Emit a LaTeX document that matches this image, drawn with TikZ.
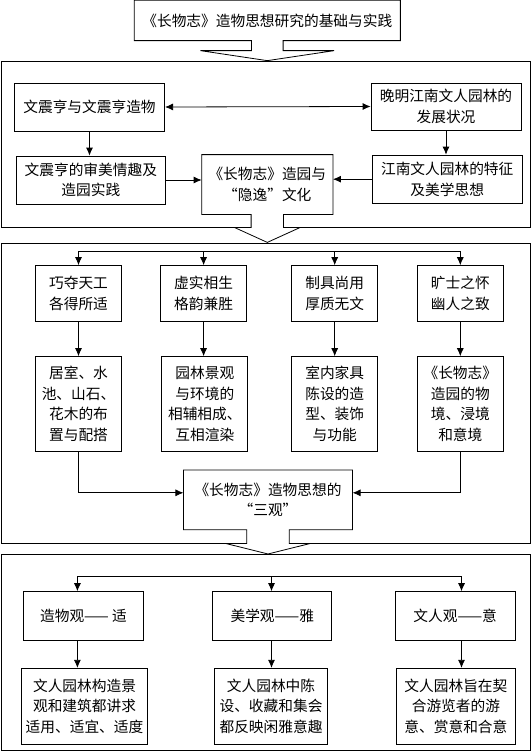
\documentclass[tikz,border=0pt]{standalone}
\usepackage{fontspec}
\newfontfamily\cjk{Noto Sans CJK SC}
\usetikzlibrary{positioning, arrows.meta, calc}

\tikzset{
  callout/.style={inner sep=0pt, align=center, font=\cjk\fontsize{14.7}{20.5}\selectfont},
  box/.style={callout, draw},
  link/.style={-{Latex[length=8pt,width=7pt]}},
  dlink/.style={{Latex[length=8pt,width=7pt]}-{Latex[length=8pt,width=7pt]}},
}

\begin{document}
\begin{tikzpicture}[x=1pt, y=-1pt, line width=0.8pt]
\useasboundingbox (0,0) rectangle (532,752);

% the three outer frames
\draw (1,61) rectangle (530,227);
\draw (1,243) rectangle (530,543);
\draw (1,554) rectangle (530,750);

% title with its down arrow
\node[callout, minimum width=265.3pt, minimum height=39.5pt] (title) at (267.3,20.5) {《长物志》造物思想研究的基础与实践};
\draw (title.north west) -- (title.north east) -- (title.south east)
  -- ($(title.south)+(15.8,0)$) -- ++(0,10) -- ++(51,0) -- ++(-66.8,10) -- ++(-66.8,-10)
  -- ++(51,0) -- ($(title.south)+(-15.8,0)$) -- (title.south west) -- cycle;

% first frame: background
\node[box, minimum width=150.3pt, minimum height=48pt] (zhenheng) at (89.5,107) {文震亨与文震亨造物};
\node[box, minimum width=150pt, minimum height=47pt] (jiangnan) at (446,106.5) {晚明江南文人园林的\\发展状况};
\node[box, minimum width=149.7pt, minimum height=48pt] (taste) at (90.8,180) {文震亨的审美情趣及\\造园实践};
\node[box, minimum width=149.7pt, minimum height=48.3pt] (feature) at (447.2,179.2) {江南文人园林的特征\\及美学思想};
\node[callout, minimum width=130.5pt, minimum height=59pt] (yinyi) at (267.3,184.5) {《长物志》造园与\\“隐逸”文化};
\fill[white] ($(yinyi.south)+(-16.2,0)$) rectangle ($(yinyi.south)+(16.2,13.5)$);
\draw (yinyi.north west) -- (yinyi.north east) -- (yinyi.south east)
  -- ($(yinyi.south)+(16.2,0)$) -- ++(0,13) -- ++(16.8,0) -- ++(-33,15) -- ++(-33,-15)
  -- ++(16.8,0) -- ($(yinyi.south)+(-16.2,0)$) -- (yinyi.south west) -- cycle;

\draw[dlink] (zhenheng.east) -- (jiangnan.west);
\draw[link] (zhenheng.south) -- (zhenheng.south |- taste.north);
\draw[link] (jiangnan.south) -- (jiangnan.south |- feature.north);
\draw[link] (taste.east) -- (taste.east -| yinyi.west);
\draw[link] (feature.west) -- (feature.west -| yinyi.east);

% second frame: the four principles
\node[box, minimum width=86pt, minimum height=56pt] (skill) at (78.5,293.6) {巧夺天工\\各得所适};
\node[box, minimum width=86pt, minimum height=56pt] (void) at (203.6,293.6) {虚实相生\\格韵兼胜};
\node[box, minimum width=86pt, minimum height=56pt] (tool) at (334.7,293.6) {制具尚用\\厚质无文};
\node[box, minimum width=86pt, minimum height=56pt] (mind) at (460.3,293.6) {旷士之怀\\幽人之致};

\node[box, minimum width=86pt, minimum height=94.6pt] (layout) at (78.5,403.9) {居室、水\\池、山石、\\花木的布\\置与配搭};
\node[box, minimum width=86pt, minimum height=94.6pt] (scene) at (204.8,403.9) {园林景观\\与环境的\\相辅相成、\\互相渲染};
\node[box, minimum width=86pt, minimum height=94.6pt] (furniture) at (334.7,403.9) {室内家具\\陈设的造\\型、装饰\\与功能};
\node[box, minimum width=86pt, minimum height=94.6pt] (realm) at (460.3,403.9) {《长物志》\\造园的物\\境、浸境\\和意境};

\node[callout, minimum width=168.3pt, minimum height=59pt] (views) at (268,499.8) {《长物志》造物思想的\\“三观”};
\fill[white] ($(views.south)+(-21.3,0)$) rectangle ($(views.south)+(21.3,14.2)$);
\draw (views.north west) -- (views.north east) -- (views.south east)
  -- ($(views.south)+(21.3,0)$) -- ++(0,13.7) -- ++(21.2,0) -- ++(-42.5,10.6) -- ++(-42.5,-10.6)
  -- ++(21.2,0) -- ($(views.south)+(-21.3,0)$) -- (views.south west) -- cycle;

\coordinate (bar2) at (78.5,251);
\draw (bar2) -- (bar2 -| mind.north);
\foreach \n in {skill, void, tool, mind}
  \draw[link] (\n.north |- bar2) -- (\n.north);
\draw[link] (skill) -- (layout);
\draw[link] (void.south) -- (void.south |- scene.north);
\draw[link] (tool) -- (furniture);
\draw[link] (mind) -- (realm);
\draw[link] (layout.south) |- ([yshift=7pt]views.west);
\draw[link] (realm.south) |- ([yshift=7pt]views.east);

% third frame: the three views
\node[box, minimum width=119.4pt, minimum height=48.4pt] (craft) at (83.5,615.8) {造物观—— 适};
\node[box, minimum width=119.1pt, minimum height=48.4pt] (beauty) at (272.3,615.8) {美学观——雅};
\node[box, minimum width=119.8pt, minimum height=48.4pt] (scholar) at (455.2,615.8) {文人观——意};

\node[box, minimum width=126.4pt, minimum height=76pt] (craftnote) at (84.5,706.3) {文人园林构造景\\观和建筑都讲求\\适用、适宜、适度};
\node[box, minimum width=113pt, minimum height=76pt] (beautynote) at (271,706.3) {文人园林中陈\\设、收藏和集会\\都反映闲雅意趣};
\node[box, minimum width=119.8pt, minimum height=76pt] (scholarnote) at (455.9,706.3) {文人园林旨在契\\合游览者的游\\意、赏意和合意};

\coordinate (bar3a) at (77.4,576.6);
\coordinate (bar3b) at (271.5,576.6);
\coordinate (bar3c) at (461.5,576.6);
\draw (bar3a) -- (bar3c);
\foreach \c/\n/\m in {bar3a/craft/craftnote, bar3b/beauty/beautynote, bar3c/scholar/scholarnote} {
  \draw[link] (\c) -- (\c |- \n.north);
  \draw[link] (\c |- \n.south) -- (\c |- \m.north);
}
\end{tikzpicture}
\end{document}
